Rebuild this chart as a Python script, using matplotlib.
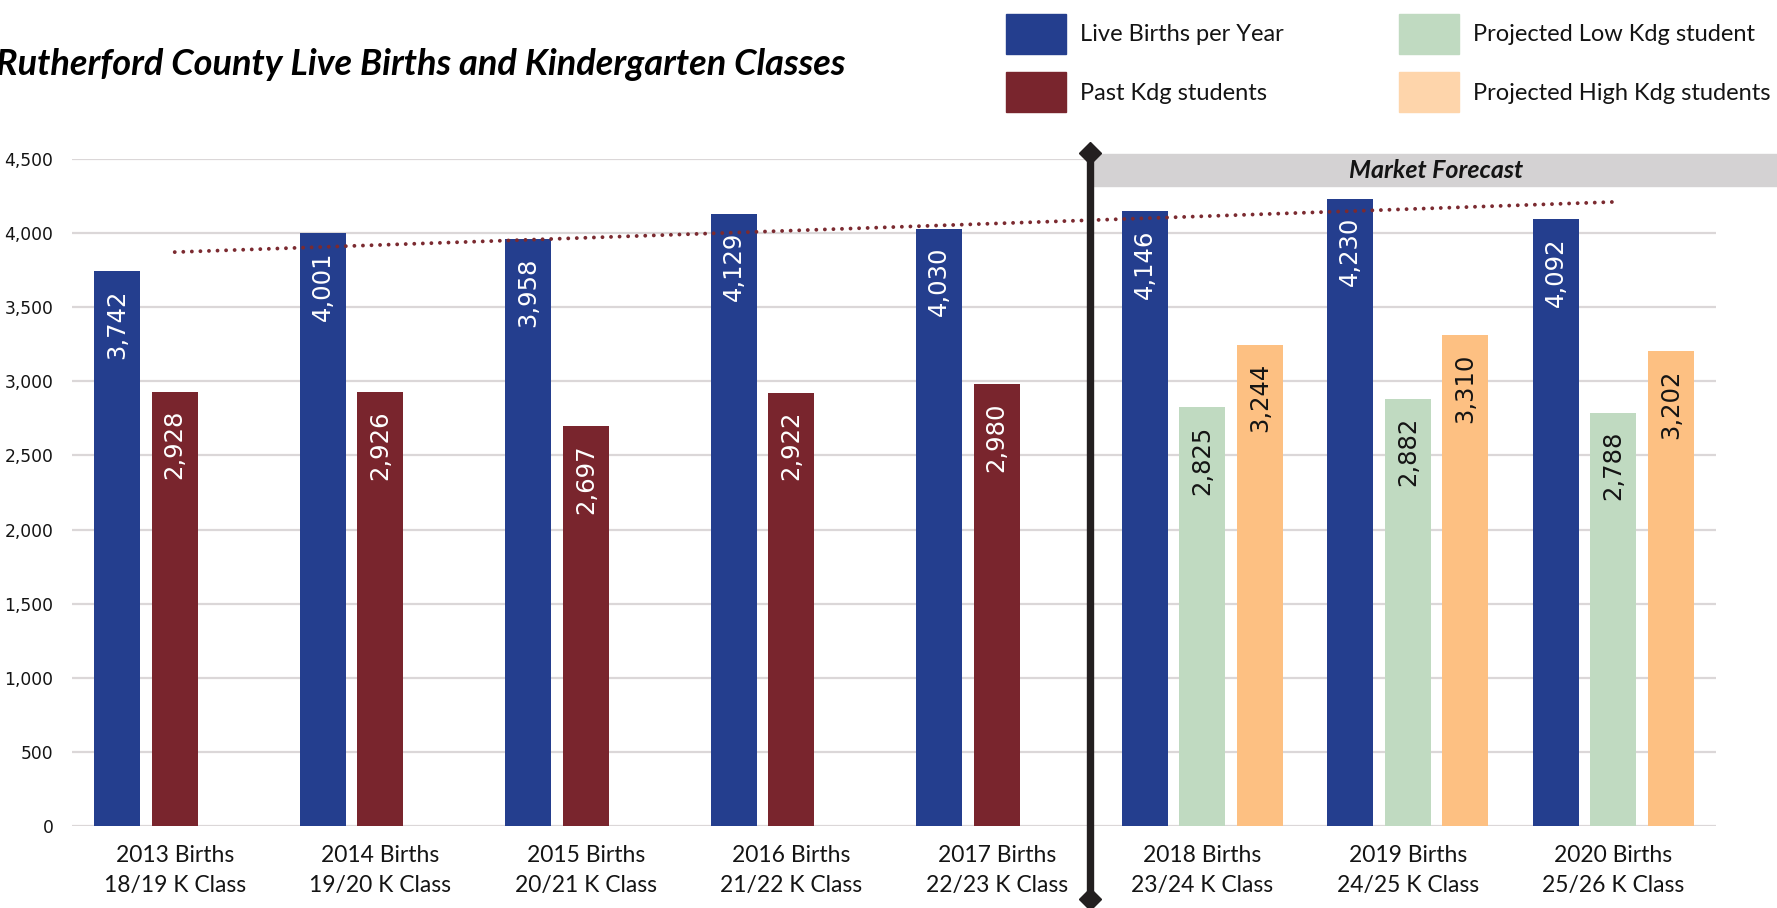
import matplotlib
matplotlib.use("Agg")
import matplotlib.pyplot as plt
import numpy as np
from matplotlib.patches import Rectangle, Patch

# ---------------- data ----------------
categories = [
    "2013 Births\n18/19 K Class",
    "2014 Births\n19/20 K Class",
    "2015 Births\n20/21 K Class",
    "2016 Births\n21/22 K Class",
    "2017 Births\n22/23 K Class",
    "2018 Births\n23/24 K Class",
    "2019 Births\n24/25 K Class",
    "2020 Births\n25/26 K Class",
]
live_births = [3742, 4001, 3958, 4129, 4030, 4146, 4230, 4092]
past_kdg = [2928, 2926, 2697, 2922, 2980, None, None, None]
proj_low = [None, None, None, None, None, 2825, 2882, 2788]
proj_high = [None, None, None, None, None, 3244, 3310, 3202]
yticks = [0, 500, 1000, 1500, 2000, 2500, 3000, 3500, 4000, 4500]
series_names = ["Live Births per Year", "Past Kdg students",
                "Projected Low Kdg student", "Projected High Kdg students"]
title = "Rutherford County Live Births and Kindergarten Classes"
forecast_label = "Market Forecast"
forecast_start = 4.455   # divider position between 2017 and 2018 groups

# ---------------- style ----------------
C_BLUE = "#243e8e"
C_MAROON = "#79252d"
C_GREEN = "#c0dac1"
C_ORANGE = "#fdc082"
C_ORANGE_LEG = "#fed5ab"
C_GRID = "#dbd7d8"
C_BAND = "#d4d2d3"
C_LINE = "#231f20"
C_TEXT = "#141414"
UI_FONT = ["Lato", "DejaVu Sans"]
NUM_FONT = ["DejaVu Sans"]

W, H = 1777, 908
fig = plt.figure(figsize=(W / 100, H / 100), dpi=100)
ax_left, ax_right, ax_bottom, ax_top = 72, 1716, 826, 159
ax = fig.add_axes([ax_left / W, 1 - ax_bottom / H,
                   (ax_right - ax_left) / W, (ax_bottom - ax_top) / H])

x = np.arange(len(categories))
bw = 0.222
off = 0.28

def draw_series(xs, vals, color, txtcolor):
    idx = [i for i, v in enumerate(vals) if v is not None]
    xx = [xs[i] for i in idx]
    vv = [vals[i] for i in idx]
    bars = ax.bar(xx, vv, width=bw, color=color, zorder=2)
    for xi, v in zip(xx, vv):
        ax.annotate(f"{v:,}", xy=(xi, v), xytext=(0, -13),
                    textcoords="offset points", rotation=90,
                    ha="center", va="top", fontsize=17.5,
                    family=NUM_FONT, color=txtcolor, zorder=3)
    return bars

draw_series(x - off, live_births, C_BLUE, "white")
draw_series(x, past_kdg, C_MAROON, "white")
draw_series(x, proj_low, C_GREEN, C_TEXT)
draw_series(x + off, proj_high, C_ORANGE, C_TEXT)

# linear trendline on live births
coef = np.polyfit(x, live_births, 1)
tx = np.array([x[0], x[-1]])
ax.plot(tx, np.polyval(coef, tx), color="#7b2a30", lw=2.8,
        linestyle=(0, (0.001, 2.2)), dash_capstyle="round", zorder=4)

ax.set_xlim(-0.5, len(categories) - 0.5)
ax.set_ylim(0, 4500)
ax.set_yticks(yticks)
ax.set_yticklabels([f"{t:,}" for t in yticks], family=NUM_FONT,
                   fontsize=12.3, color=C_TEXT)
ax.set_xticks(x)
ax.set_xticklabels(categories, family=UI_FONT, fontsize=16.5,
                   color=C_TEXT, linespacing=1.55)
ax.tick_params(axis="y", length=0, pad=13.5)
ax.tick_params(axis="x", length=0, pad=13.5)
for s in ax.spines.values():
    s.set_visible(False)
ax.set_axisbelow(True)
ax.yaxis.grid(True, color=C_GRID, lw=1.6, zorder=0.5)

# forecast band + divider
xt = ax.get_xaxis_transform()
def yfrac(py):
    return (ax_bottom - py) / (ax_bottom - ax_top)
band = Rectangle((forecast_start, yfrac(186)), 10, yfrac(154) - yfrac(186),
                 transform=xt, color=C_BAND, clip_on=False, zorder=1)
ax.add_patch(band)
ax.text(6.138, yfrac(170), forecast_label, transform=xt, ha="center",
        va="center", fontsize=18, family=UI_FONT, weight="bold",
        style="italic", color=C_TEXT, zorder=5)
ax.plot([forecast_start, forecast_start], [yfrac(153), yfrac(899)],
        transform=xt, color=C_LINE, lw=5.3, marker="D", ms=11,
        clip_on=False, zorder=6)

# title
fig.text(-4 / W, 1 - 75 / H, title, ha="left", va="baseline",
         fontsize=26, family=UI_FONT, weight="bold", style="italic",
         color="black")

# legend
handles = [Patch(color=C_BLUE), Patch(color=C_MAROON),
           Patch(color=C_GREEN), Patch(color=C_ORANGE_LEG)]
fig.legend(handles, series_names, ncol=2, loc="upper left",
           bbox_to_anchor=(1006 / W, 1 - 14 / H), frameon=False,
           prop={"family": UI_FONT, "size": 17},
           handlelength=2.54, handleheight=2.23, handletextpad=0.59,
           labelspacing=0.78, columnspacing=4.87, borderpad=0,
           borderaxespad=0, labelcolor=C_TEXT)

fig.savefig("out.png", dpi=100)
